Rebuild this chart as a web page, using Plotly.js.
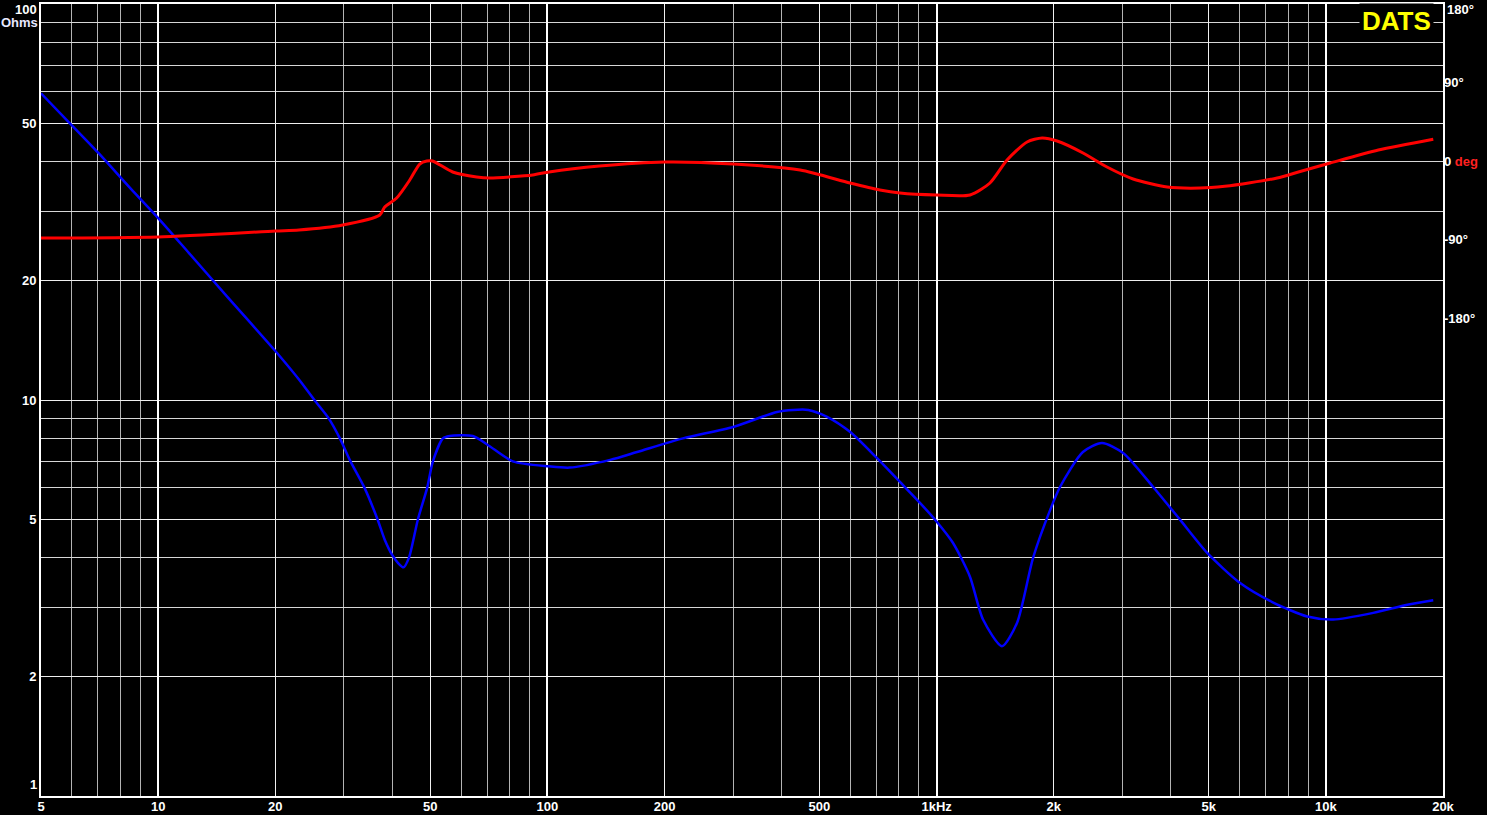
<!DOCTYPE html>
<html>
<head>
<meta charset="utf-8">
<script src="https://cdn.plot.ly/plotly-3.0.1.min.js"></script>
<style>
  html, body { margin: 0; padding: 0; background: #000; }
  #chart { width: 1487px; height: 815px; }
</style>
</head>
<body>
<div id="chart"></div>
<script>
// ---- Impedance (Ohms) ----
const freqZ = [5, 6, 7, 8.5, 10, 12, 15, 20, 22.95, 25.2, 27.4, 29.3, 31.2, 33.9, 36.6, 38.2, 40.0, 41.3, 42.7, 44.1, 46.5, 49.1, 50.8, 53.9, 56.1, 64.3, 70.3, 81.5, 101, 114, 145, 170, 223, 300, 389, 428, 468, 523, 600, 702, 805, 906, 1002, 1101, 1218, 1316, 1472, 1610, 1770, 1958, 2075, 2376, 2660, 3014, 3600, 4225, 4957, 6023, 7326, 8960, 10450, 13240, 16200, 18880];
const impedance = [59.5, 49.4, 42.2, 34.2, 28.8, 23.5, 18.3, 13.3, 11.3, 10, 9, 8, 7, 6, 5, 4.44, 4.05, 3.88, 3.78, 4.0, 5.0, 6.0, 7.0, 8.0, 8.11, 8.11, 7.7, 7.0, 6.8, 6.75, 7.06, 7.39, 8.0, 8.55, 9.33, 9.44, 9.44, 9.07, 8.3, 7.14, 6.21, 5.5, 4.92, 4.36, 3.58, 2.79, 2.39, 2.74, 4.0, 5.28, 6.03, 7.39, 7.79, 7.35, 6.03, 4.98, 4.11, 3.45, 3.08, 2.84, 2.79, 2.90, 3.04, 3.12];

// ---- Phase (deg) ----
const freqP = [5, 10, 20, 23, 29.8, 37.1, 38.2, 41.0, 44.3, 47.0, 49.0, 50.7, 57.1, 65.8, 71.1, 91.7, 101, 136, 200, 300, 446, 599, 715, 805, 1000, 1219, 1371, 1517, 1708, 1866, 2040, 2378, 2740, 3198, 3912, 4750, 5500, 6390, 7500, 8590, 10260, 13640, 18880];
const phase = [-88.3, -87.1, -80.3, -79.1, -73.4, -61.9, -52.7, -42.4, -21.8, -3.5, 0, 0, -12.6, -18.3, -19.5, -16, -12.5, -5.7, -1.1, -3.4, -10.3, -25.2, -33.2, -36.7, -39, -39, -25.2, 1.1, 21.8, 26.4, 22.9, 9.2, -6.9, -20.6, -29.8, -31, -29, -25, -19.5, -12, -2.3, 12.6, 25];

// ---- Axis ticks / grid ----
const xLabelVals = [5, 10, 20, 50, 100, 200, 500, 1000, 2000, 5000, 10000, 20000];
const xLabelText = ['5', '10', '20', '50', '100', '200', '500', '1kHz', '2k', '5k', '10k', '20k'];
const xMinorVals = [6, 7, 8, 9, 30, 40, 60, 70, 80, 90, 300, 400, 600, 700, 800, 900, 3000, 4000, 6000, 7000, 8000, 9000];
const xDecadeVals = [10, 100, 1000, 10000];
const yLabelVals = [2, 5, 10, 20, 50];
const yLabelText = ['2', '5', '10', '20', '50'];
const yMinorVals = [3, 4, 6, 7, 8, 9, 30, 40, 60, 70, 80, 90];
const phaseVals = [90, 0, -90, -180];
const phaseText = ['90°', '0 <span style="color:#ff2020">deg</span>', '-90°', '-180°'];

const FONT = 'Liberation Sans, Arial, sans-serif';
const tickFont = {family: FONT, size: 13, color: '#ffffff', weight: 'bold'};
const xr = [Math.log10(5), Math.log10(20000)];

const traces = [
  {x: freqZ, y: impedance, xaxis: 'x', yaxis: 'y', mode: 'lines', type: 'scatter',
   line: {color: '#0000ff', width: 2.5, shape: 'spline', smoothing: 0.7}, hoverinfo: 'skip'},
  {x: freqP, y: phase, xaxis: 'x2', yaxis: 'y3', mode: 'lines', type: 'scatter',
   line: {color: '#ff0000', width: 3, shape: 'spline', smoothing: 0.7}, hoverinfo: 'skip'}
];

const layout = {
  width: 1487, height: 815,
  paper_bgcolor: '#000000', plot_bgcolor: '#000000',
  margin: {l: 41, r: 44, t: 4, b: 19, pad: 0},
  showlegend: false,
  xaxis: {
    type: 'log', range: xr, tickmode: 'array', tickvals: xLabelVals, ticktext: xLabelText,
    tickfont: tickFont, ticks: '', ticklabelstandoff: -3, showgrid: true, gridcolor: '#f0f0f0', gridwidth: 1,
    minor: {tickmode: 'array', tickvals: xMinorVals, showgrid: true, gridcolor: '#b4b4b4', gridwidth: 1, ticks: ''},
    showline: true, mirror: true, linecolor: '#ffffff', linewidth: 2, zeroline: false, fixedrange: true
  },
  xaxis2: {
    type: 'log', overlaying: 'x', anchor: 'y3', range: xr, tickmode: 'array', tickvals: xDecadeVals,
    showticklabels: false, ticks: '', showgrid: true, gridcolor: '#ffffff', gridwidth: 2,
    showline: false, zeroline: false, fixedrange: true
  },
  yaxis: {
    type: 'log', range: [0, 2], tickmode: 'array', tickvals: yLabelVals, ticktext: yLabelText,
    tickfont: tickFont, ticks: '', showgrid: true, gridcolor: '#eeeeee', gridwidth: 1,
    minor: {tickmode: 'array', tickvals: yMinorVals, showgrid: true, gridcolor: '#d6d6d6', gridwidth: 1, ticks: ''},
    showline: true, mirror: true, linecolor: '#ffffff', linewidth: 2, zeroline: false, fixedrange: true
  },
  yaxis3: {
    overlaying: 'y', side: 'right', anchor: 'x', range: [-728, 180], tickmode: 'array',
    tickvals: phaseVals, ticktext: phaseText, tickfont: tickFont, ticks: '',
    showgrid: false, zeroline: false, showline: false, fixedrange: true
  },
  annotations: [
    {xref: 'paper', yref: 'paper', x: 0, y: 1, xanchor: 'right', yanchor: 'top', xshift: -2, yshift: 4,
     text: '100', showarrow: false, font: tickFont},
    {xref: 'paper', yref: 'paper', x: 0, y: 1, xanchor: 'right', yanchor: 'top', xshift: -1, yshift: -9,
     text: 'Ohms', showarrow: false, font: {family: FONT, size: 13, color: '#e8e8ff', weight: 'bold'}},
    {xref: 'paper', yref: 'paper', x: 0, y: 0, xanchor: 'right', yanchor: 'bottom', xshift: -2, yshift: 2,
     text: '1', showarrow: false, font: tickFont},
    {xref: 'paper', yref: 'paper', x: 1, y: 1, xanchor: 'left', yanchor: 'top', xshift: 2, yshift: 4,
     text: '180°', showarrow: false, font: tickFont},
    {xref: 'paper', yref: 'paper', x: 1, y: 1, xanchor: 'right', yanchor: 'top', xshift: -9, yshift: 1,
     text: 'DATS', showarrow: false, bgcolor: '#000000', borderpad: 2,
     font: {family: FONT, size: 26, color: '#ffff00', weight: 'bold'}}
  ]
};

Plotly.newPlot('chart', traces, layout, {staticPlot: true, displayModeBar: false});
</script>
</body>
</html>
